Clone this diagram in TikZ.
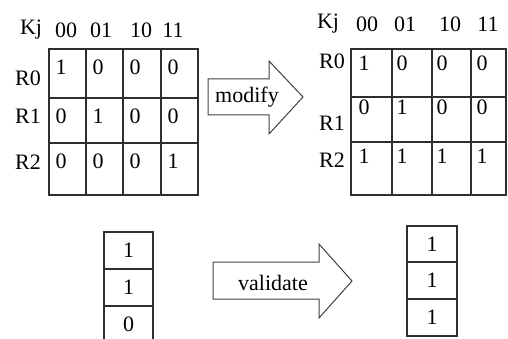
\documentclass[tikz,border=0pt]{standalone}
\usepackage{fontspec}
\setmainfont{Liberation Serif}
\usepackage{tikz}

\tikzset{
	gridline/.style={draw=black!82, line width=1.5pt},
	blockarrow/.style={draw=black!75, line width=1pt},
	txt/.style={inner sep=0pt, font=\fontsize{22}{26}\selectfont},
}

\begin{document}
\begin{tikzpicture}[x=1pt, y=-1pt]
	
	\useasboundingbox (0,0) rectangle (508,339);
	
	% original table
	\draw[gridline] (49,49) rectangle (198,195);
	\draw[gridline] (86,49) -- (86,195);
	\draw[gridline] (123,49) -- (123,195);
	\draw[gridline] (161,49) -- (161,195);
	\draw[gridline] (49,98) -- (198,98);
	\draw[gridline] (49,143) -- (198,143);
	
	\node [txt] (kjL) at (31,30){Kj};
	\node [txt] (hL0) at (66,30){00};
	\node [txt] (hL1) at (101,30){01};
	\node [txt] (hL2) at (141,30){10};
	\node [txt] (hL3) at (173,30){11};
	
	\node [txt] (rL0) at (28,78){R0};
	\node [txt] (rL1) at (28,116){R1};
	\node [txt] (rL2) at (28,162){R2};
	
	\node [txt] (L00) at (61,67){1};
	\node [txt] (L01) at (98,67){0};
	\node [txt] (L02) at (135,67){0};
	\node [txt] (L03) at (173,67){0};
	\node [txt] (L10) at (61,116){0};
	\node [txt] (L11) at (98,116){1};
	\node [txt] (L12) at (135,116){0};
	\node [txt] (L13) at (173,116){0};
	\node [txt] (L20) at (61,161){0};
	\node [txt] (L21) at (98,161){0};
	\node [txt] (L22) at (135,161){0};
	\node [txt] (L23) at (173,161){1};
	
	% modify arrow
	\draw[blockarrow] (208,79) -- (269,79) -- (269,61) -- (303,97) -- (269,134) -- (269,115) -- (208,115) -- cycle;
	\node [txt] (modify) at (247,97){modify};
	
	% modified table
	\draw[gridline] (351,49) rectangle (506,195);
	\draw[gridline] (392,49) -- (392,195);
	\draw[gridline] (432,49) -- (432,195);
	\draw[gridline] (471,49) -- (471,195);
	\draw[gridline] (351,97) -- (506,97);
	\draw[gridline] (351,142) -- (506,142);
	
	\node [txt] (kjR) at (328,24){Kj};
	\node [txt] (hR0) at (367,24){00};
	\node [txt] (hR1) at (405,24){01};
	\node [txt] (hR2) at (450,24){10};
	\node [txt] (hR3) at (488,24){11};
	
	\node [txt] (rR0) at (332,61){R0};
	\node [txt] (rR1) at (332,123){R1};
	\node [txt] (rR2) at (332,160){R2};
	
	\node [txt] (M00) at (364,63){1};
	\node [txt] (M01) at (402,63){0};
	\node [txt] (M02) at (442,63){0};
	\node [txt] (M03) at (482,63){0};
	\node [txt] (M10) at (364,107){0};
	\node [txt] (M11) at (402,107){1};
	\node [txt] (M12) at (442,107){0};
	\node [txt] (M13) at (482,107){0};
	\node [txt] (M20) at (364,156){1};
	\node [txt] (M21) at (402,156){1};
	\node [txt] (M22) at (442,156){1};
	\node [txt] (M23) at (482,156){1};
	
	% vector before
	\draw[gridline] (104,232) rectangle (153,343);
	\draw[gridline] (104,269) -- (153,269);
	\draw[gridline] (104,306) -- (153,306);
	\node [txt] (v1) at (128.5,250.5){1};
	\node [txt] (v2) at (128.5,287.5){1};
	\node [txt] (v3) at (128.5,324.5){0};
	
	% validate arrow
	\draw[blockarrow] (213,262) -- (319,262) -- (319,244) -- (352,281) -- (319,318) -- (319,299) -- (213,299) -- cycle;
	\node [txt] (validate) at (273,283){validate};
	
	% vector after
	\draw[gridline] (407,226) rectangle (457,336);
	\draw[gridline] (407,262) -- (457,262);
	\draw[gridline] (407,299) -- (457,299);
	\node [txt] (w1) at (432,244){1};
	\node [txt] (w2) at (432,280.5){1};
	\node [txt] (w3) at (432,317.5){1};
	
\end{tikzpicture}
\end{document}
